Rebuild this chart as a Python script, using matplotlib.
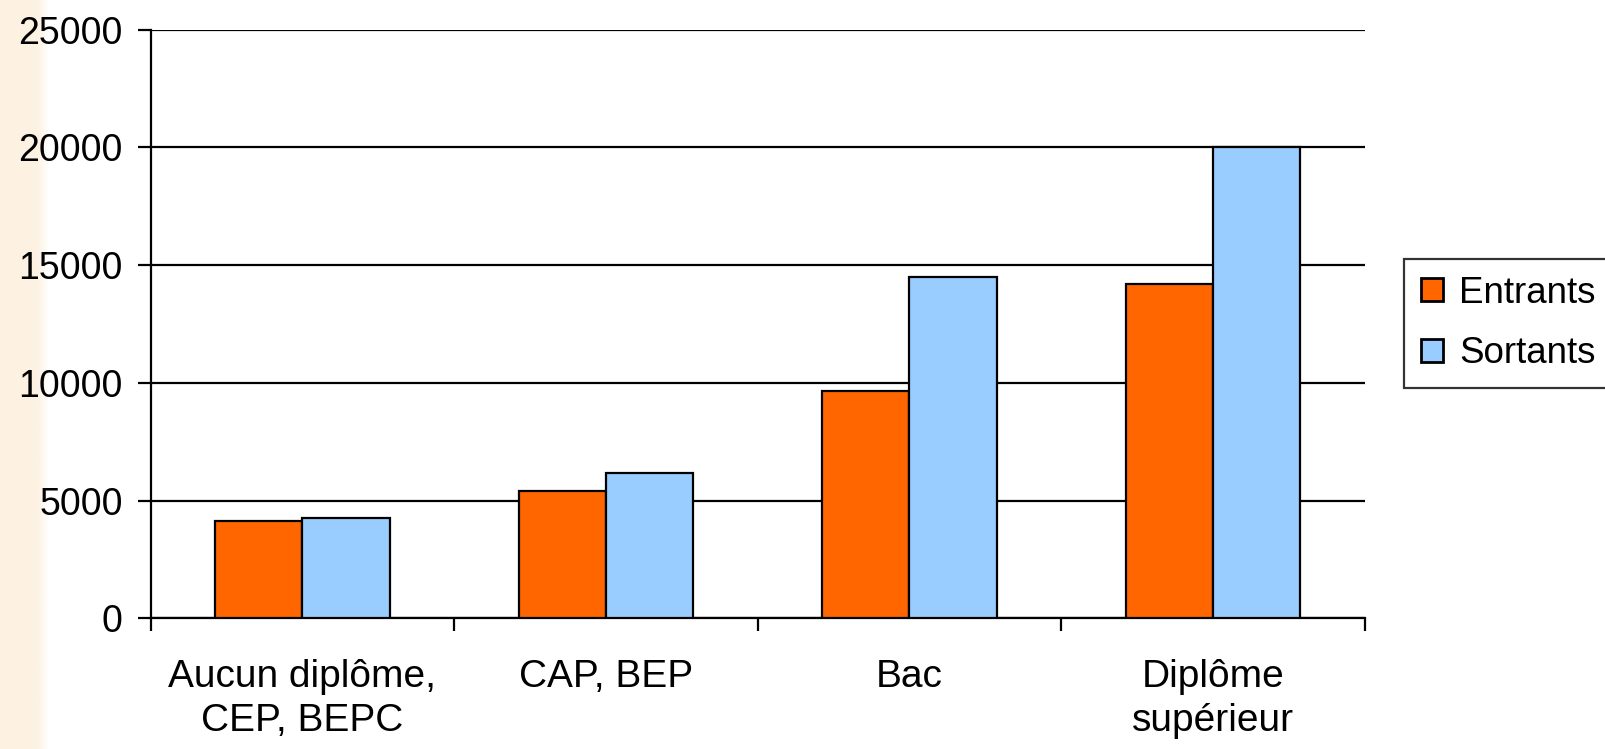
import numpy as np
import matplotlib.pyplot as plt

categories = ["Aucun diplôme,\nCEP, BEPC", "CAP, BEP", "Bac", "Diplôme\nsupérieur"]
entrants = [4130, 5400, 9650, 14220]
sortants = [4240, 6190, 14480, 20000]
yticks = [0, 5000, 10000, 15000, 20000, 25000]

plt.rcParams['font.family'] = ['Liberation Sans', 'DejaVu Sans']

fig = plt.figure(figsize=(16.05, 7.49), dpi=100)

# cream strip on the left edge, fading to white
bg = fig.add_axes([0, 0, 0.03, 1], zorder=-10)
grad = np.ones((1, 100, 3))
cream = np.array([253, 242, 226]) / 255
for i in range(100):
    t = 0 if i < 75 else (i - 75) / 25
    grad[0, i] = cream * (1 - t) + np.ones(3) * t
bg.imshow(grad, aspect='auto', extent=[0, 1, 0, 1])
bg.axis('off')

lw = 1.6
ax = fig.add_axes([0.0938, 0.1745, 0.7564, 0.7858])
x = np.arange(len(categories))
w = 0.2875
ax.bar(x - w / 2, entrants, w, color='#FF6600', edgecolor='black', linewidth=lw,
       label='Entrants', zorder=3)
ax.bar(x + w / 2, sortants, w, color='#99CCFF', edgecolor='black', linewidth=lw,
       label='Sortants', zorder=3)

ax.set_xlim(-0.5, len(categories) - 0.5)
ax.set_ylim(0, 25000)
ax.set_yticks(yticks)
ax.yaxis.grid(True, color='black', linewidth=lw, zorder=0)
ax.set_axisbelow(True)

ax.set_xticks(np.arange(len(categories) + 1) - 0.5)
ax.set_xticklabels([])
ax.set_xticks(x, minor=True)
ax.set_xticklabels(categories, minor=True, fontsize=28, linespacing=1.3)
ax.tick_params(axis='x', which='minor', length=0, pad=29)
ax.tick_params(axis='x', which='major', length=9.5, width=lw, direction='out')
ax.tick_params(axis='y', length=9.5, width=lw, labelsize=27, pad=10.5)

for s in ['top', 'right']:
    ax.spines[s].set_visible(False)
for s in ['left', 'bottom']:
    ax.spines[s].set_linewidth(lw)

leg = fig.legend(loc='upper left', bbox_to_anchor=(0.8748, 0.654), fontsize=26.5,
                 frameon=True, fancybox=False, edgecolor='black', handlelength=0.6,
                 handleheight=0.6, handletextpad=0.45, labelspacing=0.7,
                 borderpad=0.45, borderaxespad=0)
leg.get_frame().set_linewidth(lw)
for h in leg.legend_handles:
    h.set_linewidth(2)

fig.savefig('out.png', dpi=100)
